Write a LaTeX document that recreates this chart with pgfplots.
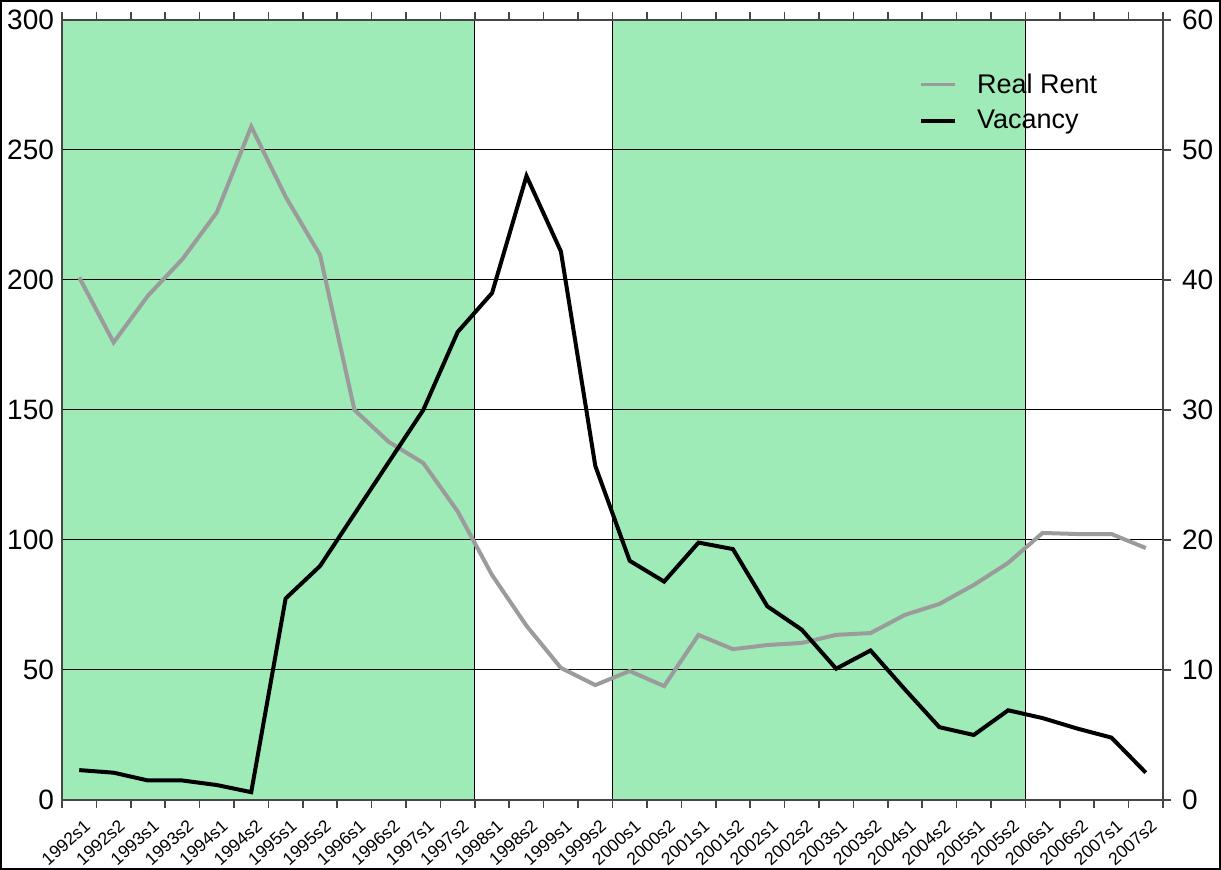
\documentclass[border=0pt]{standalone}
\usepackage{fontspec}
\setmainfont{Liberation Sans}
\usepackage{pgfplots}
\usepackage{pgfplotstable}
\pgfplotsset{compat=1.18}

\definecolor{band}{RGB}{158,235,183}
\definecolor{rentgray}{RGB}{155,155,155}
\definecolor{axgray}{RGB}{70,70,70}

% x = category centre, rent on left axis, vacancy on right axis
\pgfplotstableread{
x    rent   vac
0.5  201    2.3
1.5  176    2.1
2.5  194    1.5
3.5  208    1.5
4.5  226    1.15
5.5  259    0.6
6.5  232    15.5
7.5  209.6  18
8.5  150    22
9.5  137.7  26
10.5 129.6  30
11.5 111    36
12.5 86.5   39
13.5 67     48
14.5 50.8   42.2
15.5 44.2   25.7
16.5 49.6   18.4
17.5 43.8   16.8
18.5 63.5   19.8
19.5 58     19.3
20.5 59.6   14.9
21.5 60.4   13.1
22.5 63.5   10.1
23.5 64.2   11.5
24.5 71.2   8.5
25.5 75.4   5.6
26.5 82.7   5.0
27.5 91.2   6.9
28.5 102.7  6.3
29.5 102.3  5.5
30.5 102.3  4.8
31.5 96.9   2.1
}\data

\begin{document}
\begin{tikzpicture}
\begin{axis}[
  name=main,
  set layers,
  scale only axis,
  width=550.5pt, height=390pt,
  xmin=0, xmax=32,
  ymin=0, ymax=300,
  axis line style={axgray, line width=0.8pt},
  xtick={0,1,...,32},
  x tick label as interval,
  xticklabels={1992s1,1992s2,1993s1,1993s2,1994s1,1994s2,1995s1,1995s2,1996s1,1996s2,1997s1,1997s2,1998s1,1998s2,1999s1,1999s2,2000s1,2000s2,2001s1,2001s2,2002s1,2002s2,2003s1,2003s2,2004s1,2004s2,2005s1,2005s2,2006s1,2006s2,2007s1,2007s2},
  xticklabel style={xshift=2pt, yshift=-5pt, rotate=42, anchor=north east,
    inner sep=0pt, font=\fontsize{8.8}{9}\selectfont},
  x tick style={axgray, line width=0.8pt},
  tick align=outside,
  major tick length=4pt,
  ytick={0,50,...,300},
  y tick style={draw=none},
  yticklabel style={font=\fontsize{14}{14}\selectfont, xshift=3.5pt},
  /pgf/number format/assume math mode=true,
  ymajorgrids,
  grid style={black, line width=0.5pt},
]
  % shaded periods
  \addplot[fill=band, draw=black, line width=0.5pt, on layer=axis background]
    coordinates {(0,0) (0,300) (12,300) (12,0)} -- cycle;
  \addplot[fill=band, draw=black, line width=0.5pt, on layer=axis background]
    coordinates {(16,0) (16,300) (28,300) (28,0)} -- cycle;
  \addplot[rentgray, line width=2pt, no markers] table[x=x, y=rent] {\data};
\end{axis}

\begin{axis}[
  scale only axis,
  width=550.5pt, height=390pt,
  xmin=0, xmax=32,
  ymin=0, ymax=60,
  axis x line=none,
  axis y line*=right,
  axis line style={axgray, line width=0.8pt},
  ytick={0,10,...,60},
  tick align=outside,
  major tick length=4pt,
  y tick style={axgray, line width=0.8pt},
  yticklabel style={font=\fontsize{14}{14}\selectfont, xshift=2pt},
  /pgf/number format/assume math mode=true,
  legend style={at={(0.7725,0.942)}, anchor=north west, draw=none, fill=none,
    font=\fontsize{13.5}{16}\selectfont, row sep=3pt, column sep=8pt},
  legend cell align=left,
]
  \addlegendimage{rentgray, line width=1.5pt}
  \addlegendentry{Real Rent}
  \addplot[black, line width=2pt, no markers] table[x=x, y=vac] {\data};
  \addlegendentry{Vacancy}
\end{axis}

\pgfresetboundingbox
\draw[line width=1pt] ([xshift=-30.5pt,yshift=-34.5pt]main.south west)
  rectangle ([xshift=28.5pt,yshift=9.5pt]main.north east);
\end{tikzpicture}
\end{document}
